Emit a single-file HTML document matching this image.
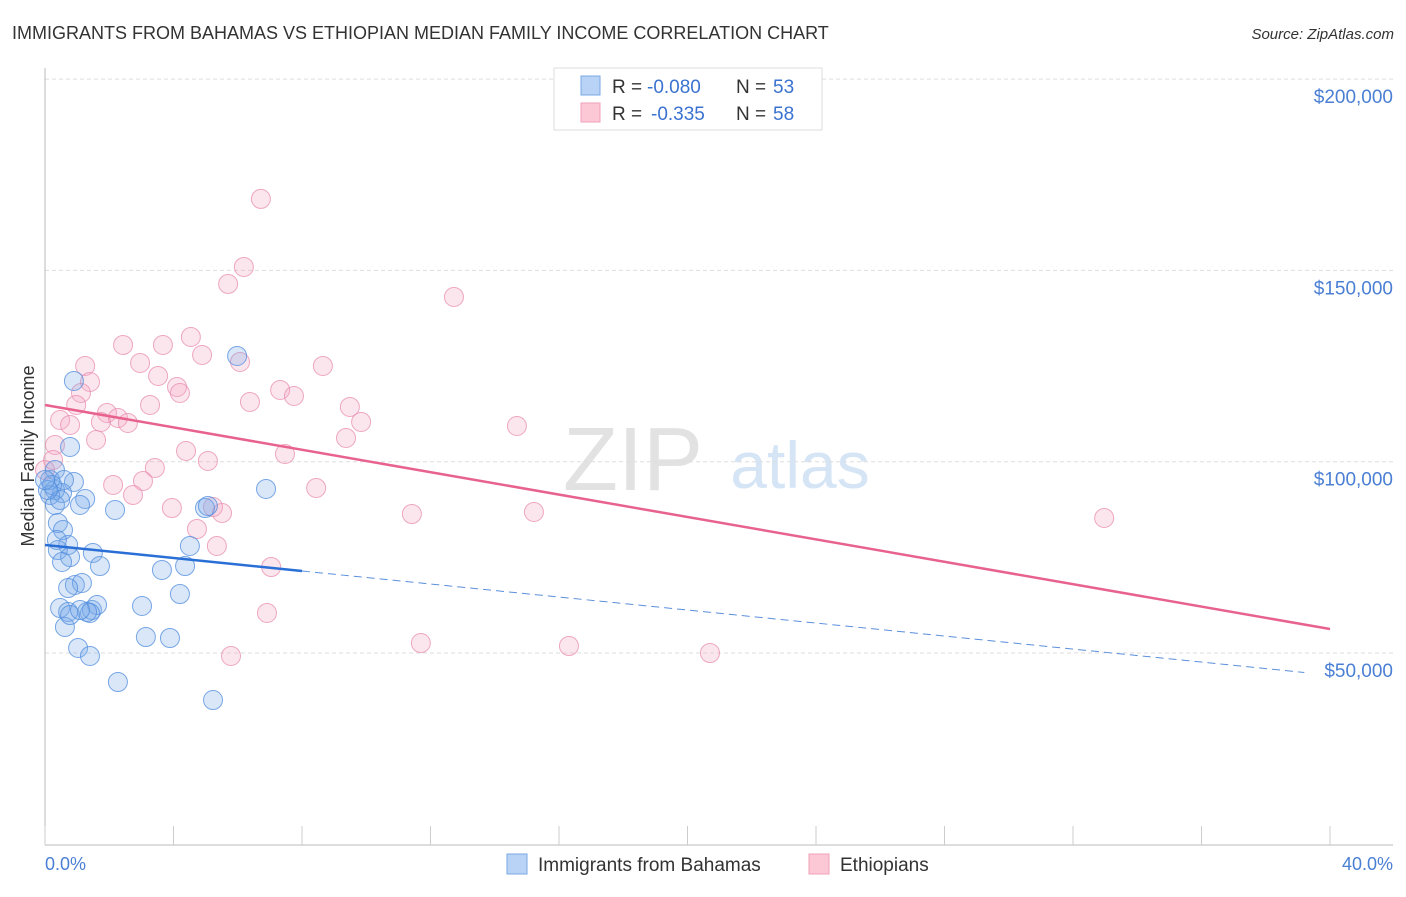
<!DOCTYPE html>
<html><head><meta charset="utf-8"><style>
body{margin:0;background:#fff;font-family:"Liberation Sans",sans-serif;}
svg text{font-family:"Liberation Sans",sans-serif;}
</style></head><body>
<svg id="chart" width="1406" height="892" viewBox="0 0 1406 892" xmlns="http://www.w3.org/2000/svg">
<text x="12" y="39" font-size="18" fill="#333">IMMIGRANTS FROM BAHAMAS VS ETHIOPIAN MEDIAN FAMILY INCOME CORRELATION CHART</text>
<text x="1394" y="39" font-size="15" fill="#333" font-style="italic" text-anchor="end">Source: ZipAtlas.com</text>
<g>
<text x="633" y="490" font-size="90" fill="#e2e2e2" text-anchor="middle" font-family="Liberation Serif,serif">ZIP</text>
<text x="800" y="488" font-size="66" fill="#d6e5f6" text-anchor="middle">atlas</text>
</g>
<g id="grid"></g>
<g id="axes"></g>
<g id="marks"></g>
<g id="lines"></g>
<text transform="translate(34,456) rotate(-90)" font-size="18" fill="#333" text-anchor="middle">Median Family Income</text>
<text x="45" y="870" font-size="18" fill="#4a7fd4">0.0%</text>
<text x="1393" y="870" font-size="18" fill="#4a7fd4" text-anchor="end">40.0%</text>
<g>
<rect x="554" y="68" width="268" height="62" fill="#fff" stroke="#ddd"/>
<rect x="581" y="76" width="19" height="19" fill="#b8d3f5" stroke="#7aaae6"/>
<rect x="581" y="103" width="19" height="19" fill="#fcc8d6" stroke="#f0a0b8"/>
<text x="612" y="93" font-size="19" fill="#333">R =</text>
<text x="647" y="93" font-size="19" fill="#3a72d0">-0.080</text>
<text x="736" y="93" font-size="19" fill="#333">N =</text>
<text x="773" y="93" font-size="19" fill="#3a72d0">53</text>
<text x="612" y="120" font-size="19" fill="#333">R =</text>
<text x="651" y="120" font-size="19" fill="#3a72d0">-0.335</text>
<text x="736" y="120" font-size="19" fill="#333">N =</text>
<text x="773" y="120" font-size="19" fill="#3a72d0">58</text>
</g>
<g>
<rect x="507" y="854" width="20" height="20" fill="#b8d3f5" stroke="#7aaae6"/>
<text x="538" y="871" font-size="19" fill="#333">Immigrants from Bahamas</text>
<rect x="809" y="854" width="20" height="20" fill="#fcc8d6" stroke="#f0a0b8"/>
<text x="840" y="871" font-size="19" fill="#333">Ethiopians</text>
</g>
</svg>
<script>
const yTicks=[50000,100000,150000,200000];
const yTickLabels=["$50,000","$100,000","$150,000","$200,000"];
const blueX=[0.90,0.78,0.90,1.25,1.09,0.53,0.31,0.16,0.16,0.31,0.40,0.56,0.72,0.40,0.78,0.53,1.49,1.71,0.47,0.72,0.93,1.15,0.72,1.46,1.62,1.40,1.31,0.62,1.03,1.40,2.27,3.02,3.14,3.89,3.64,4.36,4.51,4.20,4.98,5.07,5.23,5.98,6.88,2.18,0.31,0.22,0.47,0.09,0.00,0.37,0.78,1.09,0.59];
const blueY=[121100,103850,94700,90260,88690,91820,92610,95220,91300,88690,83980,82150,78230,76920,75090,73790,76140,72740,61760,60720,67780,68300,66990,61240,62550,60460,60720,56800,51310,49220,42420,62290,54180,53920,71700,72740,77970,65420,87900,88430,37710,127640,92870,87380,97840,93920,90000,92610,95220,79540,59930,61240,95220];
const pinkX=[6.72,6.19,5.70,12.73,4.54,2.43,3.67,2.96,4.89,6.07,8.65,1.25,3.52,1.40,4.11,4.20,1.12,7.32,7.75,6.38,3.27,0.97,9.49,1.93,2.27,0.47,0.78,1.74,2.58,9.84,14.69,9.37,1.59,0.31,4.39,7.47,5.07,3.42,0.00,2.12,3.05,8.44,2.74,3.95,5.23,5.51,11.42,15.22,32.97,4.73,5.35,7.04,6.91,11.70,16.31,20.70,5.79,0.25];
const pinkY=[168680,150900,146460,143060,132600,130510,130510,125810,127900,126070,125020,125020,122410,120840,119530,117960,117960,118750,117180,115610,114830,114830,114300,112740,111430,110910,109600,110380,110120,110380,109340,106200,105680,104370,102800,102020,100190,98360,97840,93920,94960,93130,91300,87900,88160,86600,86330,86860,85290,82410,77970,72480,60460,52610,51830,50000,49220,100450];
const blueTrend=[78230,-850];
const pinkTrend=[114830,-1464];
const xs=v=>45+v*(1285/40);
const ys=v=>653-(v-50000)*(191.3/50000);
const NS="http://www.w3.org/2000/svg";
function mk(t,a,p){const e=document.createElementNS(NS,t);for(const k in a)e.setAttribute(k,a[k]);p.appendChild(e);return e;}
const grid=document.getElementById('grid');
yTicks.forEach((t,i)=>{
 const l=mk('line',{x1:45,x2:1393,y1:ys(t),y2:ys(t),stroke:'#ddd','stroke-dasharray':'4,3'},grid);
 
 
 const tx=mk('text',{x:1393,y:ys(t)+24,'font-size':19,fill:'#4a7fd4','text-anchor':'end'},grid);
 tx.textContent=yTickLabels[i];
 
 
});
const ax=document.getElementById('axes');
mk('line',{x1:45,x2:45,y1:68,y2:845,stroke:'#bbb'},ax);
mk('line',{x1:45,x2:1393,y1:845,y2:845,stroke:'#bbb'},ax);
for(let i=0;i<=10;i++){const t=mk('line',{x1:xs(i*4),x2:xs(i*4),y1:826,y2:845,stroke:'#ccc'},ax);
 
 }
const m=document.getElementById('marks');
pinkX.forEach((x,i)=>{const c=mk('circle',{cx:xs(x),cy:ys(pinkY[i]),r:9.5,fill:'rgba(245,165,195,0.28)',stroke:'rgba(232,140,175,0.75)','stroke-width':1},m);
 
 });
blueX.forEach((x,i)=>{const c=mk('circle',{cx:xs(x),cy:ys(blueY[i]),r:9.5,fill:'rgba(120,170,235,0.28)',stroke:'rgba(80,140,220,0.75)','stroke-width':1},m);
 
 });
const L=document.getElementById('lines');
const tv=(tr,x)=>tr[0]+tr[1]*x;
let a=mk('line',{x1:xs(0),y1:ys(tv(pinkTrend,0)),x2:xs(40),y2:ys(tv(pinkTrend,40)),stroke:'#e8628e','stroke-width':2.5},L);


a=mk('line',{x1:xs(0),y1:ys(tv(blueTrend,0)),x2:xs(8),y2:ys(tv(blueTrend,8)),stroke:'#2a6fd6','stroke-width':2.5},L);


a=mk('line',{x1:xs(8),y1:ys(tv(blueTrend,8)),x2:xs(39.2),y2:ys(tv(blueTrend,39.2)),stroke:'#5b8fdc','stroke-width':1,'stroke-dasharray':'8,5'},L);


</script>
</body></html>
